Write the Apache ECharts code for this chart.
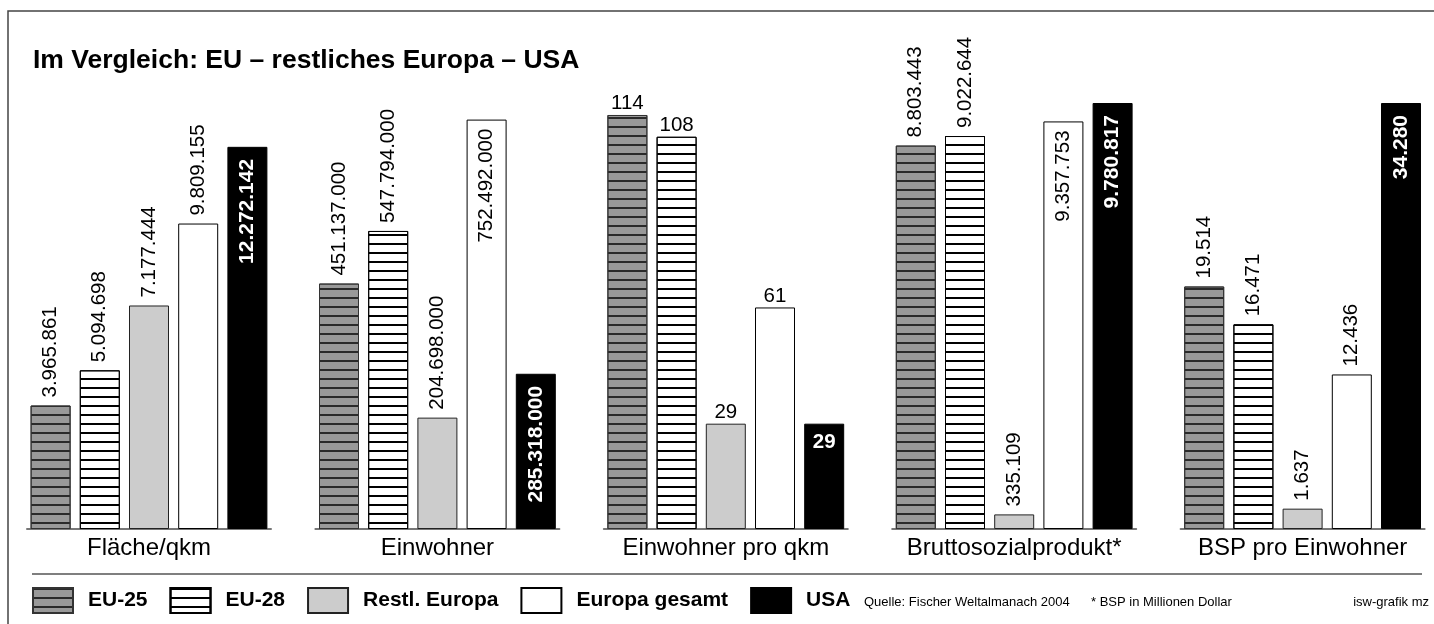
<!DOCTYPE html>
<html>
<head>
<meta charset="utf-8">
<title>Im Vergleich: EU – restliches Europa – USA</title>
<script src="https://cdn.jsdelivr.net/npm/echarts@6/dist/echarts.min.js"></script>
<style>
  html, body { margin: 0; padding: 0; background: #fff; }
  #chart { width: 1434px; height: 624px; }
</style>
</head>
<body>
<div id="chart"></div>
<script>
// Kennzahlen je Gruppe (Reihenfolge wie in categories)
const categories = ['Fläche/qkm', 'Einwohner', 'Einwohner pro qkm', 'Bruttosozialprodukt*', 'BSP pro Einwohner'];
const regions = ['EU-25', 'EU-28', 'Restl. Europa', 'Europa gesamt', 'USA'];

const eu25        = [3965861, 451137000, 114, 8803443, 19514];
const eu28        = [5094698, 547794000, 108, 9022644, 16471];
const restEurope  = [7177444, 204698000,  29,  335109,  1637];
const europeTotal = [9809155, 752492000,  61, 9357753, 12436];
const usa         = [12272142, 285318000, 29, 9780817, 34280];

const footnotes = ['Quelle: Fischer Weltalmanach 2004', '* BSP in Millionen Dollar', 'isw-grafik mz'];

// Jede Gruppe hat ihre eigene Werteskala
const axisMax = [13680000, 783000000, 117.3, 9780817, 34280];

const seriesValues = [eu25, eu28, restEurope, europeTotal, usa];

const FONT = '"Liberation Sans", Arial, Helvetica, sans-serif';

function fmt(v) {
  return String(v).replace(/\B(?=(\d{3})+(?!\d))/g, '.');
}

const hatch = (color) => ({
  symbol: 'rect',
  symbolSize: 1,
  dashArrayX: [1, 0],
  dashArrayY: [1.5, 6.2],
  rotation: 0,
  color: color
});

const barStyles = [
  { color: '#999999', borderColor: '#333', borderWidth: 1, decal: hatch('#2a2a2a') },
  { color: '#ffffff', borderColor: '#000', borderWidth: 1, decal: hatch('#000000') },
  { color: '#cccccc', borderColor: '#222', borderWidth: 1 },
  { color: '#ffffff', borderColor: '#000', borderWidth: 1 },
  { color: '#000000', borderColor: '#000', borderWidth: 1 }
];

function labelFor(g, r, value) {
  const base = { show: true, fontSize: 20.5, fontFamily: FONT, color: '#000', formatter: p => fmt(p.value) };
  const isUsa = (r === regions.length - 1);
  if (g === 2) {
    // Einwohner pro qkm: waagerechte Beschriftung
    return isUsa
      ? Object.assign(base, { position: 'insideTop', distance: 8, color: '#fff', fontWeight: 'bold' })
      : Object.assign(base, { position: 'top', distance: 1 });
  }
  if (isUsa) {
    return Object.assign(base, { position: 'insideTop', distance: 12, rotate: 90, align: 'right', verticalAlign: 'middle', color: '#fff', fontWeight: 'bold', fontSize: 21 });
  }
  if (value / axisMax[g] > 0.94) {
    // sehr hohe Säulen: Wert innen oben
    return Object.assign(base, { position: 'insideTop', distance: 9, rotate: 90, align: 'right', verticalAlign: 'middle' });
  }
  return Object.assign(base, { position: 'top', distance: 8, rotate: 90, align: 'left', verticalAlign: 'middle' });
}

const groupCount = categories.length;
const grids = [], xAxes = [], yAxes = [], series = [];

for (let g = 0; g < groupCount; g++) {
  grids.push({ left: 27 + g * 288.4, top: 103, width: 244, height: 426 });
  xAxes.push({
    type: 'category',
    gridIndex: g,
    data: [categories[g]],
    axisLine: { lineStyle: { color: '#777', width: 2 } },
    axisTick: { show: false },
    axisLabel: { fontSize: 24, color: '#000', fontFamily: FONT, margin: 7 }
  });
  yAxes.push({
    type: 'value',
    gridIndex: g,
    min: 0,
    max: axisMax[g],
    show: false
  });
  for (let r = 0; r < regions.length; r++) {
    const v = seriesValues[r][g];
    series.push({
      type: 'bar',
      name: regions[r],
      xAxisIndex: g,
      yAxisIndex: g,
      data: [v],
      barWidth: 40,
      barGap: '23%',
      itemStyle: barStyles[r],
      label: labelFor(g, r, v),
      silent: true,
      animation: false
    });
  }
}

const chart = echarts.init(document.getElementById('chart'), null, { renderer: 'canvas' });
chart.setOption({
  backgroundColor: '#fff',
  animation: false,
  grid: grids,
  xAxis: xAxes,
  yAxis: yAxes,
  series: series,
  legend: {
    data: regions,
    left: 32,
    top: 587,
    padding: 0,
    itemWidth: 40,
    itemHeight: 25,
    itemGap: 22,
    icon: 'rect',
    selectedMode: false,
    textStyle: { fontSize: 21, fontWeight: 'bold', color: '#000', fontFamily: FONT, padding: [0, 0, 0, 10] }
  },
  graphic: [
    { type: 'rect', shape: { x: 8, y: 11, width: 1500, height: 700 }, style: { fill: 'none', stroke: '#444', lineWidth: 1.5 }, silent: true },
    { type: 'line', shape: { x1: 32, y1: 574, x2: 1422, y2: 574 }, style: { stroke: '#555', lineWidth: 1.5 }, silent: true },
    { type: 'text', x: 33, y: 61, style: { text: 'Im Vergleich: EU – restliches Europa – USA', font: 'bold 26.5px ' + FONT, fill: '#000', textVerticalAlign: 'middle' } },
    { type: 'text', x: 864, y: 602, style: { text: footnotes[0], font: '13px ' + FONT, fill: '#000', textVerticalAlign: 'middle' } },
    { type: 'text', x: 1091, y: 602, style: { text: footnotes[1], font: '13px ' + FONT, fill: '#000', textVerticalAlign: 'middle' } },
    { type: 'text', x: 1429, y: 602, style: { text: footnotes[2], font: '13px ' + FONT, fill: '#000', textVerticalAlign: 'middle', textAlign: 'right' } }
  ]
});
</script>
</body>
</html>
